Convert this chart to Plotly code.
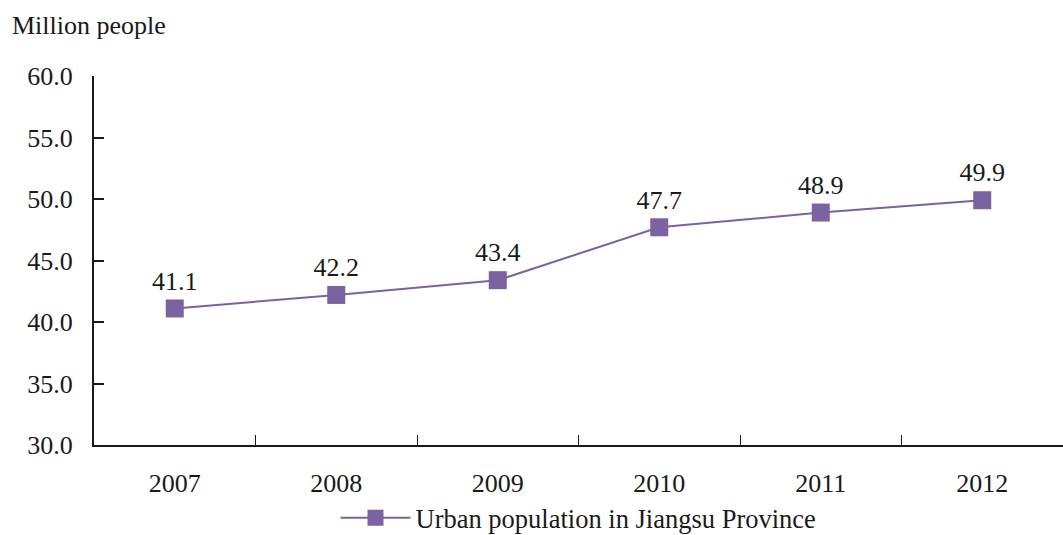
import plotly.graph_objects as go

years = ["2007", "2008", "2009", "2010", "2011", "2012"]
urban_pop = [41.1, 42.2, 43.4, 47.7, 48.9, 49.9]
y_ticks = [30, 35, 40, 45, 50, 55, 60]
series_name = "Urban population in Jiangsu Province"

color = "#7B62A0"
font_family = "Liberation Serif"
H = 535
T = 76
B = 90
plot_h = H - T - B

fig = go.Figure()
fig.add_trace(go.Scatter(
    x=years, y=urban_pop, name=series_name,
    mode="lines+markers+text",
    line=dict(color=color, width=2),
    marker=dict(symbol="square", size=18, color=color),
    text=[f"{v:.1f}" for v in urban_pop],
    textposition="top center",
    textfont=dict(family=font_family, size=26, color="#1a1a1a"),
))

fig.update_layout(
    width=1063, height=H,
    margin=dict(l=94, r=0, t=T, b=B, autoexpand=False),
    paper_bgcolor="white", plot_bgcolor="white",
    font=dict(family=font_family, size=26, color="#1a1a1a"),
    showlegend=True,
    legend=dict(orientation="h", x=0.5, xanchor="center",
                y=-(518 - (H - B)) / plot_h, yanchor="middle",
                font=dict(size=26.5), itemwidth=70),
    xaxis=dict(type="category", range=[-0.5, 5.5],
               showline=True, linecolor="#1a1a1a", linewidth=2,
               ticks="inside", ticklen=10, tickcolor="#1a1a1a", tickwidth=1,
               tickson="boundaries", showgrid=False, zeroline=False,
               ticklabelstandoff=14, tickfont=dict(size=26), automargin=False),
    yaxis=dict(range=[30, 60], tickvals=y_ticks,
               ticktext=[f"{v:.1f}" for v in y_ticks],
               showline=True, linecolor="#1a1a1a", linewidth=2,
               ticks="inside", ticklen=10, tickcolor="#1a1a1a", tickwidth=2,
               showgrid=False, zeroline=False, ticklabelstandoff=14,
               tickfont=dict(size=26), automargin=False),
    annotations=[dict(text="Million people", xref="paper", yref="paper",
                      x=-84 / 969, y=1 + (T - 26) / plot_h, xanchor="left", yanchor="middle",
                      showarrow=False, font=dict(size=26))],
)

fig.write_html("out.html")
